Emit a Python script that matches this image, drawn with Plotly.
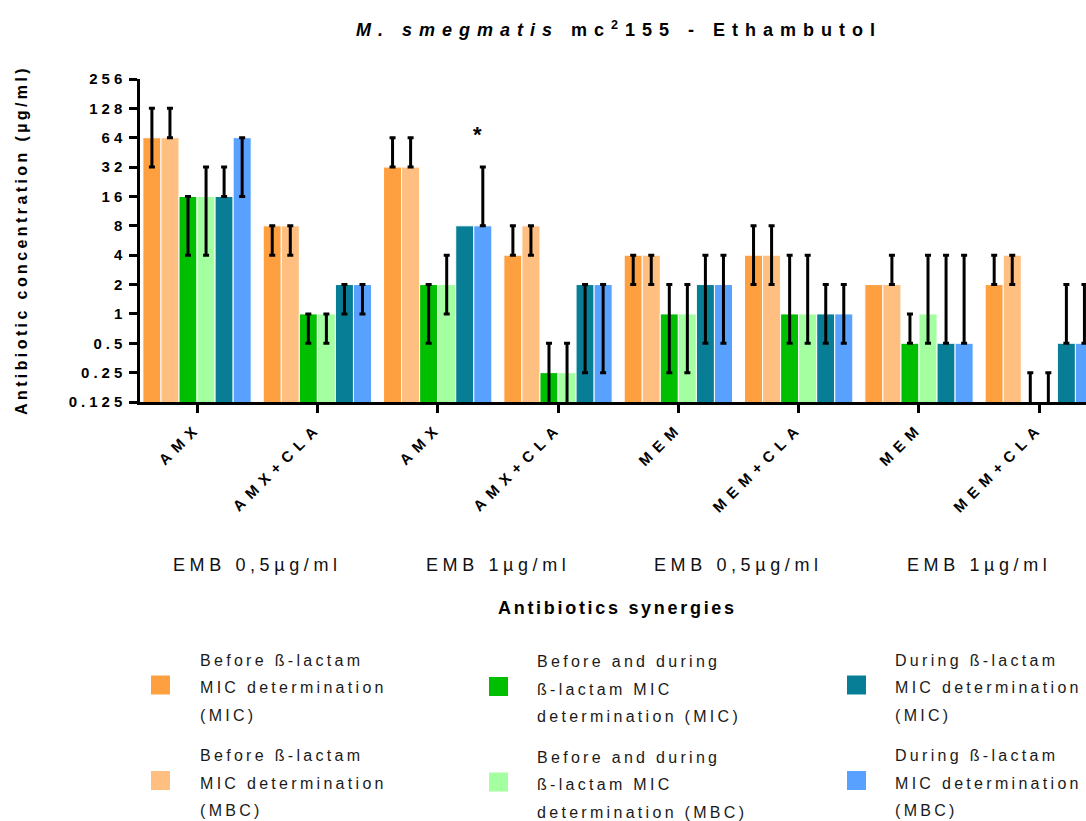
import math
import plotly.graph_objects as go

# ---- data -----------------------------------------------------------------
categories = ["AMX", "AMX+CLA", "AMX", "AMX+CLA", "MEM", "MEM+CLA", "MEM", "MEM+CLA"]
emb_labels = ["EMB 0,5µg/ml", "EMB 1µg/ml", "EMB 0,5µg/ml", "EMB 1µg/ml"]
y_ticks = [0.125, 0.25, 0.5, 1, 2, 4, 8, 16, 32, 64, 128, 256]
y_tick_text = ["0.125", "0.25", "0.5", "1", "2", "4", "8", "16", "32", "64", "128", "256"]

# mean values and asymmetric error (up / down); None = no error bar
before_mic = [64, 8, 32, 4, 4, 4, 2, 2]
before_mic_up = [64, 0, 32, 4, 0, 4, None, 2]
before_mic_down = [32, 4, 0, 0, 2, 2, None, 0]

before_mbc = [64, 8, 32, 8, 4, 4, 2, 4]
before_mbc_up = [64, 0, 32, 0, 0, 4, 2, 0]
before_mbc_down = [0, 4, 0, 4, 2, 2, 0, 2]

both_mic = [16, 1, 2, 0.25, 1, 1, 0.5, 0.125]
both_mic_up = [0, 0, 0, 0.25, 1, 3, 0.5, 0.125]
both_mic_down = [12, 0.5, 1.5, 0.25, 0.75, 0.5, 0, 0.125]

both_mbc = [16, 1, 2, 0.25, 1, 1, 1, 0.125]
both_mbc_up = [16, 0, 2, 0.25, 1, 3, 3, 0.125]
both_mbc_down = [12, 0.5, 1, 0.25, 0.75, 0.5, 0.5, 0.125]

during_mic = [16, 2, 8, 2, 2, 1, 0.5, 0.5]
during_mic_up = [16, 0, None, 0, 2, 1, 3.5, 1.5]
during_mic_down = [0, 1, None, 1.75, 1.5, 0.5, 0, 0]

during_mbc = [64, 2, 8, 2, 2, 1, 0.5, 0.5]
during_mbc_up = [0, 0, 24, 0, 2, 1, 3.5, 1.5]
during_mbc_down = [48, 1, 0, 1.75, 1.5, 0.5, 0, 0]

series_lines = [
    ["Before ß-lactam", "MIC determination", "(MIC)"],
    ["Before ß-lactam", "MIC determination", "(MBC)"],
    ["Before and during", "ß-lactam MIC", "determination (MIC)"],
    ["Before and during", "ß-lactam MIC", "determination (MBC)"],
    ["During ß-lactam", "MIC determination", "(MIC)"],
    ["During ß-lactam", "MIC determination", "(MBC)"],
]
series_colors = ["#FFA040", "#FFBF80", "#00BF00", "#A4FFA0", "#087E96", "#58A1FF"]
series_values = [before_mic, before_mbc, both_mic, both_mbc, during_mic, during_mbc]
series_up = [before_mic_up, before_mbc_up, both_mic_up, both_mbc_up, during_mic_up, during_mbc_up]
series_down = [before_mic_down, before_mbc_down, both_mic_down, both_mbc_down,
               during_mic_down, during_mbc_down]

# ---- page geometry ----------------------------------------------------------
W, H = 1086, 821
L, R, T, B = 140, 0, 79, 419
PW, PH = W - L - R, H - T - B
FONT = "Liberation Sans, Arial, Helvetica, sans-serif"
BAR_GAP = 0.1


def spaced(text, px):
    return f'<span style="letter-spacing:{px}px">{text}</span>'


def fx(px):
    return (px - L) / PW


def fy(py):
    return (T + PH - py) / PH


fig = go.Figure()

for k, (lines, color, vals, up, down) in enumerate(
        zip(series_lines, series_colors, series_values, series_up, series_down)):
    name = " ".join(lines)
    with_err = [i for i in range(len(vals)) if up[i] is not None]
    no_err = [i for i in range(len(vals)) if up[i] is None]
    marker = dict(color=color, line=dict(color="white", width=1))
    fig.add_trace(go.Bar(
        x=with_err, y=[vals[i] for i in with_err], name=name, offsetgroup=str(k),
        marker=marker, showlegend=False,
        error_y=dict(type="data", symmetric=False,
                     array=[up[i] for i in with_err],
                     arrayminus=[down[i] for i in with_err],
                     color="black", thickness=3, width=3),
    ))
    if no_err:
        fig.add_trace(go.Bar(
            x=no_err, y=[vals[i] for i in no_err], name=name, offsetgroup=str(k),
            marker=marker, showlegend=False,
        ))

fig.update_layout(
    width=W, height=H, margin=dict(l=L, r=R, t=T, b=B, autoexpand=False),
    paper_bgcolor="white", plot_bgcolor="white",
    barmode="group", bargap=BAR_GAP, bargroupgap=0,
    font=dict(family=FONT, color="black"),
    title=dict(
        text=spaced("<i>M. smegmatis</i> mc<sup>2</sup>155 - Ethambutol", 7.0),
        font=dict(size=18, weight="bold", family=FONT, color="black"),
        xref="container", yref="container", x=619 / W, y=1 - 30 / H,
        xanchor="center", yanchor="middle",
    ),
    xaxis=dict(
        range=[-0.474, 7.388], tickmode="array", tickvals=list(range(len(categories))),
        ticktext=[spaced(c, 6.5) for c in categories], tickangle=-45,
        tickfont=dict(size=15, weight="bold", family=FONT, color="black"),
        showline=True, linecolor="black", linewidth=2.5,
        ticks="outside", ticklen=8, tickwidth=2.5, tickcolor="black",
        showgrid=False, zeroline=False, fixedrange=True,
    ),
    yaxis=dict(
        type="log", range=[math.log10(y_ticks[0]), math.log10(y_ticks[-1])],
        tickmode="array", tickvals=y_ticks, ticktext=[spaced(t, 4.0) for t in y_tick_text],
        tickfont=dict(size=15, weight="bold", family=FONT, color="black"),
        showline=True, linecolor="black", linewidth=2.5,
        ticks="outside", ticklen=8, tickwidth=2.5, tickcolor="black",
        showgrid=False, zeroline=False, fixedrange=True,
    ),
)

annotations = []
# axis titles
annotations.append(dict(
    text=spaced("Antibiotic concentration (µg/ml)", 3.4), textangle=-90,
    xref="paper", yref="paper", x=fx(21.5), y=0.5, xanchor="center", yanchor="middle",
    showarrow=False, font=dict(size=16, weight="bold", family=FONT, color="black"),
))
annotations.append(dict(
    text=spaced("Antibiotics synergies", 2.7),
    xref="paper", yref="paper", x=fx(617.5), y=fy(608), xanchor="center", yanchor="middle",
    showarrow=False, font=dict(size=18, weight="bold", family=FONT, color="black"),
))
# concentration labels under each pair of categories
for j, lab in enumerate(emb_labels):
    annotations.append(dict(
        text=spaced(lab, 4.6), xref="x", yref="paper", x=2 * j + 0.5, y=fy(565),
        xanchor="center", yanchor="middle", showarrow=False,
        font=dict(size=18, family=FONT, color="#111111"),
    ))
# significance mark above the MBC bar of the third group
n_series = len(series_values)
bar_w = (1 - BAR_GAP) / n_series
annotations.append(dict(
    text="*", xref="x", yref="y", x=2 + (5 - (n_series - 1) / 2) * bar_w,
    y=math.log10(during_mbc[2] + during_mbc_up[2]), yanchor="bottom", xshift=-5, yshift=18,
    showarrow=False, font=dict(size=22, weight="bold", family=FONT, color="black"),
))

# legend: three columns of two entries, each a square swatch and three text lines
col_square_x = [160.5, 498.5, 856.5]
col_text_x = [198, 535, 893]
row_square_y = [685, 780.5]
line_step = 27.5
shapes = []
for k, lines in enumerate(series_lines):
    col, row = k // 2, k % 2
    cx, cy = col_square_x[col], row_square_y[row] + (1.5 if col == 1 else 0)
    shapes.append(dict(
        type="rect", xref="paper", yref="paper",
        x0=fx(cx - 9.5), x1=fx(cx + 9.5), y0=fy(cy + 9.5), y1=fy(cy - 9.5),
        fillcolor=series_colors[k], line=dict(width=0),
    ))
    for n, line in enumerate(lines):
        annotations.append(dict(
            text=spaced(line, 3.3), xref="paper", yref="paper",
            x=fx(col_text_x[col]), y=fy(cy - 25 + n * line_step),
            xanchor="left", yanchor="middle", showarrow=False,
            font=dict(size=16, family=FONT, color="#1a1a1a"),
        ))

fig.update_layout(annotations=annotations, shapes=shapes)

fig.write_html("out.html", config={"displayModeBar": False})
